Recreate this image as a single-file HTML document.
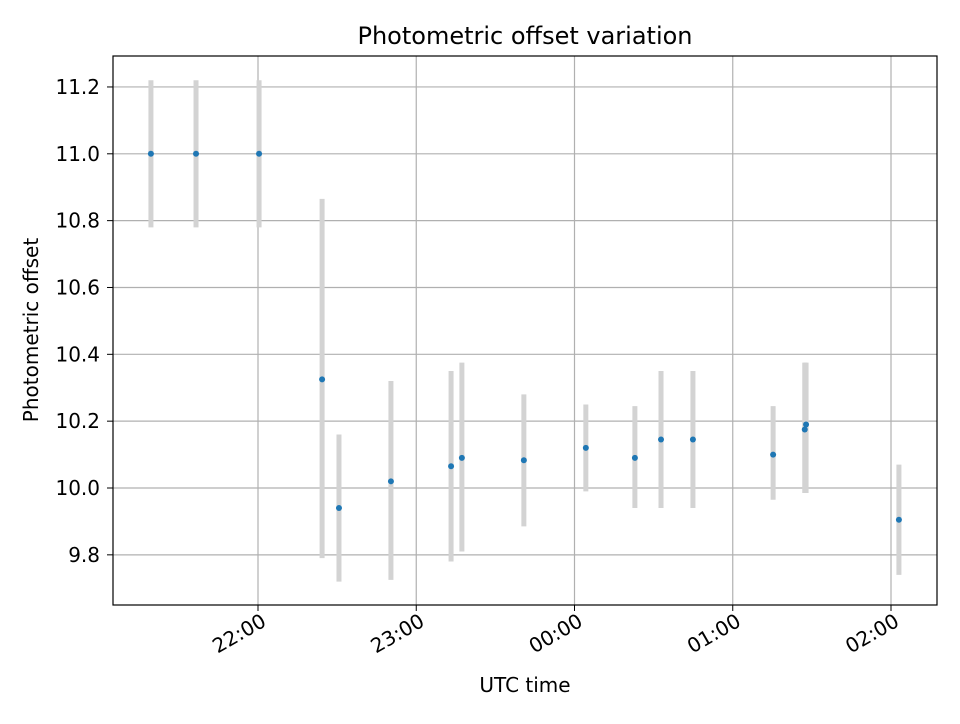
<!DOCTYPE html>
<html><head><meta charset="utf-8"><style>
body{margin:0;background:#fff;font-family:"DejaVu Sans","Liberation Sans",sans-serif;}
</style></head><body>
<svg id="chart" width="960" height="720" xmlns="http://www.w3.org/2000/svg" font-family="DejaVu Sans, Liberation Sans, sans-serif">
<rect width="960" height="720" fill="#fff"/>
<g id="grid"></g>
<g id="errs"></g>
<g id="pts"></g>
<rect x="113" y="56" width="824" height="549" fill="none" stroke="#000" stroke-width="1.2"/>
<g id="ticks"></g>
<text x="525" y="44" text-anchor="middle" font-size="24">Photometric offset variation</text>
<text x="525" y="692" text-anchor="middle" font-size="20">UTC time</text>
<text transform="translate(38,330) rotate(-90)" text-anchor="middle" font-size="20">Photometric offset</text>
</svg>
<script>
// minutes relative to 22:00 UTC
const times=[-40.6,-23.5,0.4,24.3,30.7,50.4,73.2,77.3,100.8,124.3,142.9,152.8,164.9,195.3,207.3,207.8,243];
const values=[11.0,11.0,11.0,10.325,9.94,10.02,10.065,10.09,10.083,10.12,10.09,10.145,10.145,10.10,10.175,10.19,9.905];
const errLow=[10.78,10.78,10.78,9.79,9.72,9.725,9.78,9.81,9.885,9.99,9.94,9.94,9.94,9.965,9.985,9.985,9.74];
const errHigh=[11.22,11.22,11.22,10.865,10.16,10.32,10.35,10.375,10.28,10.25,10.245,10.35,10.35,10.245,10.375,10.375,10.07];
const yTicks=[9.8,10.0,10.2,10.4,10.6,10.8,11.0,11.2];
const xTicks=[0,60,120,180,240];
const xTickLabels=["22:00","23:00","00:00","01:00","02:00"];
const NS="http://www.w3.org/2000/svg";
const X=m=>258+m*158.25/60;
const Y=v=>488-(v-10)*334.2;
function mk(tag,attrs,parent){const e=document.createElementNS(NS,tag);for(const k in attrs)e.setAttribute(k,attrs[k]);document.getElementById(parent).appendChild(e);return e;}
yTicks.forEach(t=>{
 const l=mk('line',{x1:113,x2:937,y1:Y(t),y2:Y(t),stroke:'#b0b0b0','stroke-width':1.2},'grid');
 
 
 const tk=mk('line',{x1:107,x2:113,y1:Y(t),y2:Y(t),stroke:'#000'},'ticks');
 
 
 const tx=mk('text',{x:100,y:Y(t)+7,'text-anchor':'end','font-size':20},'ticks');
 tx.textContent=t.toFixed(1);
 
 
});
xTicks.forEach((t,i)=>{
 const l=mk('line',{x1:X(t),x2:X(t),y1:56,y2:605,stroke:'#b0b0b0','stroke-width':1.2},'grid');
 
 
 const tk=mk('line',{x1:X(t),x2:X(t),y1:605,y2:611,stroke:'#000'},'ticks');
 
 
 const tx=mk('text',{transform:`translate(${X(t)+2},${612}) rotate(-30)`,'text-anchor':'end','font-size':20,y:15},'ticks');
 tx.textContent=xTickLabels[i];
 
 
});
times.forEach((t,i)=>{
 const b=mk('line',{x1:X(t),x2:X(t),y1:Y(errHigh[i]),y2:Y(errLow[i]),stroke:'#d3d3d3','stroke-width':5},'errs');
 
 
});
times.forEach((t,i)=>{
 const c=mk('circle',{cx:X(t),cy:Y(values[i]),r:3,fill:'#1f77b4'},'pts');
 
 
});
</script>
</body></html>
